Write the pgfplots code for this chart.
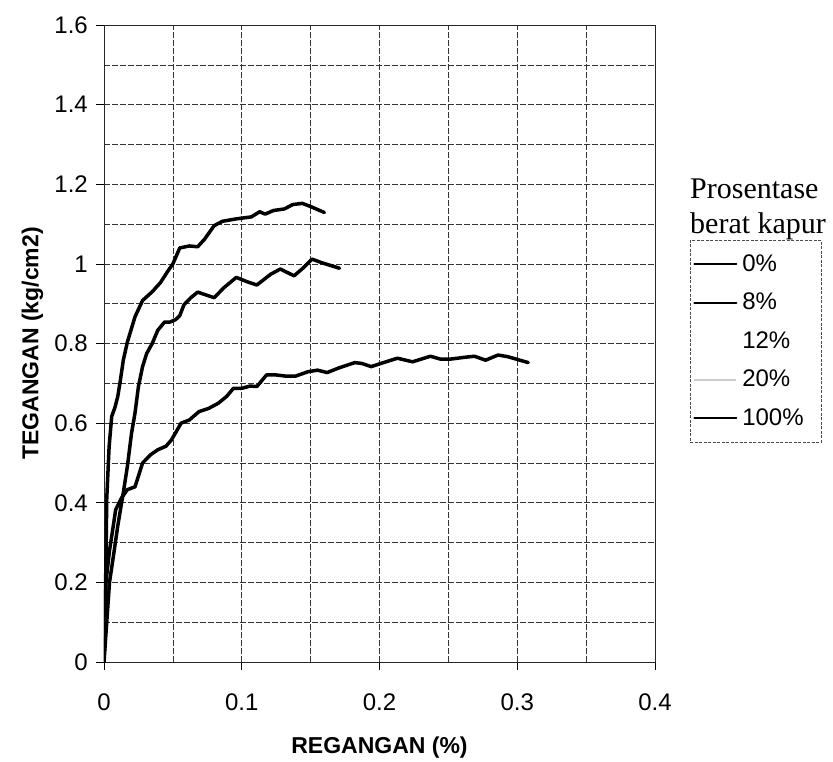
\documentclass[border=0pt]{standalone}
\usepackage{pgfplots}
\pgfplotsset{compat=1.18}
\usepackage{fontspec}
\setmainfont{Liberation Sans}
\newfontfamily\serif{Liberation Serif}
\begin{document}
\begin{tikzpicture}
\begin{axis}[
  at={(0,0)}, anchor=south west,
  scale only axis, width=551pt, height=637pt,
  xmin=0, xmax=0.4, ymin=0, ymax=1.6,
  xtick={0,0.1,0.2,0.3,0.4},
  minor xtick={0.05,0.15,0.25,0.35},
  ytick={0,0.2,0.4,0.6,0.8,1,1.2,1.4,1.6},
  minor ytick={0.1,0.3,0.5,0.7,0.9,1.1,1.3,1.5},
  grid=both,
  major grid style={black!80, dash pattern=on 6pt off 2pt, line width=0.6pt},
  minor grid style={black!80, dash pattern=on 6pt off 2pt, line width=0.6pt},
  axis line style={black!85, line width=0.7pt},
  tick align=outside, major tick length=8pt, minor tick length=0pt,
  tick pos=left,
  tick style={black, line width=0.7pt},
  scaled ticks=false,
  /pgf/number format/assume math mode=true,
  ticklabel style={font=\fontsize{24}{28}\selectfont},
  xticklabel style={anchor=north, inner sep=0pt, yshift=-24pt},
  yticklabel style={anchor=east, inner sep=0pt, xshift=-8pt},
  xlabel={REGANGAN (\%)},
  ylabel={TEGANGAN (kg/cm2)},
  label style={font=\bfseries\fontsize{23}{27}\selectfont},
  xlabel style={at={(axis description cs:0.5,-0.135)}, anchor=center},
  ylabel style={at={(axis description cs:-0.13,0.5)}, anchor=center},
  legend style={name=leg, at={(1.0635,0.6625)}, anchor=north west,
    draw=black!70, dash pattern=on 3pt off 1.5pt, line width=0.6pt,
    font=\fontsize{24}{28}\selectfont, inner xsep=3pt, inner ysep=14pt,
    row sep=18.5pt, column sep=5pt,
    nodes={inner sep=0pt, text height=17pt, text depth=3pt, solid}},
  legend cell align=left,
  legend image code/.code={\draw[#1, solid, line width=2pt] (0pt,0pt) -- (42pt,0pt);},
]
\addplot[black, no markers, line width=3.5pt, line join=round, line cap=round] coordinates {
(0,0) (0.0007,0.1) (0.0014,0.25) (0.002,0.41) (0.0037,0.54) (0.0056,0.617) (0.008,0.64)
(0.010,0.667) (0.012,0.71) (0.014,0.758) (0.017,0.804) (0.0225,0.867) (0.028,0.908)
(0.035,0.93) (0.041,0.953) (0.046,0.98) (0.050,1.00) (0.055,1.04) (0.062,1.045)
(0.068,1.043) (0.073,1.062) (0.080,1.096) (0.086,1.107) (0.096,1.113) (0.107,1.118)
(0.113,1.131) (0.117,1.125) (0.123,1.134) (0.131,1.138) (0.137,1.149) (0.144,1.152)
(0.150,1.144) (0.160,1.129)
};
\addlegendentry{\makebox[76pt][l]{0\%}}
\addplot[black, no markers, line width=3.5pt, line join=round, line cap=round] coordinates {
(0,0) (0.002,0.1) (0.004,0.2) (0.007,0.27) (0.010,0.342) (0.014,0.425) (0.017,0.492)
(0.020,0.575) (0.0225,0.625) (0.025,0.692) (0.028,0.742) (0.031,0.775) (0.035,0.80)
(0.039,0.833) (0.044,0.854) (0.048,0.854) (0.052,0.86) (0.055,0.87) (0.058,0.897)
(0.063,0.915) (0.068,0.929) (0.074,0.922) (0.080,0.915) (0.087,0.94) (0.096,0.966)
(0.104,0.955) (0.111,0.947) (0.121,0.974) (0.128,0.987) (0.138,0.97) (0.145,0.991)
(0.151,1.012) (0.158,1.003) (0.171,0.989)
};
\addlegendentry{8\%}
\addlegendimage{white}
\addlegendentry{12\%}
\addlegendimage{black!20, dotted}
\addlegendentry{20\%}
\addplot[black, no markers, line width=3.5pt, line join=round, line cap=round] coordinates {
(0,0) (0.0014,0.2) (0.004,0.28) (0.006,0.325) (0.0085,0.383) (0.0127,0.412) (0.017,0.433)
(0.0225,0.44) (0.025,0.467) (0.028,0.5) (0.034,0.521) (0.039,0.533) (0.045,0.542)
(0.049,0.558) (0.056,0.6) (0.062,0.608) (0.069,0.629) (0.076,0.637) (0.083,0.65)
(0.089,0.667) (0.094,0.6875) (0.100,0.6875) (0.106,0.693) (0.111,0.692) (0.118,0.721)
(0.125,0.721) (0.132,0.718) (0.139,0.718) (0.148,0.729) (0.155,0.733) (0.162,0.727)
(0.170,0.738) (0.182,0.752) (0.187,0.75) (0.194,0.742) (0.201,0.75) (0.213,0.763)
(0.224,0.754) (0.237,0.768) (0.244,0.761) (0.252,0.761) (0.261,0.765) (0.269,0.768)
(0.277,0.758) (0.286,0.771) (0.293,0.767) (0.300,0.76) (0.308,0.752)
};
\addlegendentry{100\%}
\end{axis}
\node[anchor=south west, inner sep=0pt, align=left, font=\serif\fontsize{30}{35}\selectfont] at (leg.north west) {Prosentase\\berat kapur};
\pgfresetboundingbox
\path (-104pt,-99pt) rectangle (729pt,662pt);
\end{tikzpicture}
\end{document}
